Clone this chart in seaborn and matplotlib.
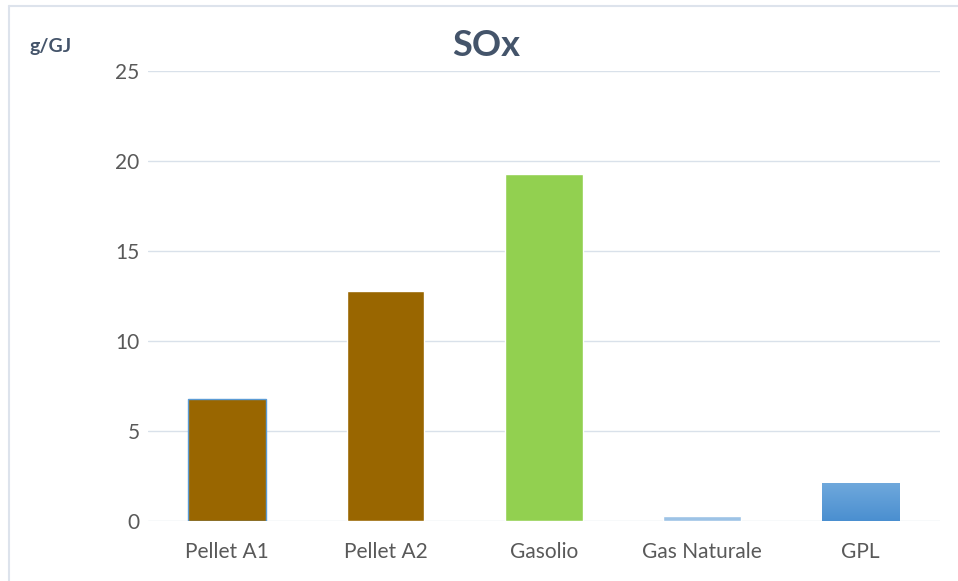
import numpy as np
import pandas as pd
import matplotlib
matplotlib.use('Agg')
import matplotlib.pyplot as plt
from matplotlib.lines import Line2D
import seaborn as sns

# data
categorie = ['Pellet A1', 'Pellet A2', 'Gasolio', 'Gas Naturale', 'GPL']
sox = [6.8, 12.8, 19.3, 0.3, 2.1]
colori = ['#996600', '#996600', '#92D050', '#9DC3E6', '#5B9BD5']

df = pd.DataFrame({'categoria': categorie, 'sox': sox})

sns.set_style('white')
plt.rcParams['font.family'] = ['Lato', 'DejaVu Sans']

fig = plt.figure(figsize=(9.58, 5.81), dpi=100)
ax = fig.add_axes([0.1545, 0.1033, 0.8265, 0.7747])

sns.barplot(data=df, x='categoria', y='sox', hue='categoria', palette=colori,
            legend=False, width=0.49, saturation=1, ax=ax, zorder=3)

# thin blue edge on first bar, gradient on GPL like the original
ax.patches[0].set_edgecolor('#5B9BD5')
ax.patches[0].set_linewidth(1)
gpl = ax.patches[4]
x0, y0 = gpl.get_x(), gpl.get_y()
w, h = gpl.get_width(), gpl.get_height()
grad = np.linspace(0, 1, 100).reshape(-1, 1)
cmap = matplotlib.colors.LinearSegmentedColormap.from_list('g', ['#4A8FD0', '#6FA8DC'])
im = ax.imshow(grad, cmap=cmap, extent=[x0, x0 + w, y0, y0 + h], origin='lower',
               aspect='auto', zorder=3.5)
im.set_clip_path(gpl)
ax.set_xlim(-0.5, 4.5)

ax.set_ylim(0, 25)
ax.set_yticks(range(0, 26, 5))
ax.yaxis.grid(True, color='#D9E1EA', linewidth=1)
ax.set_axisbelow(True)
for s in ax.spines.values():
    s.set_visible(False)
ax.tick_params(axis='both', length=0, labelsize=15, colors='#595959')
ax.tick_params(axis='x', pad=15)
ax.tick_params(axis='y', pad=6)
ax.set_xlabel('')
ax.set_ylabel('')

fig.text(0.508, 0.922, 'SOx', ha='center', va='center', fontsize=26,
         fontweight='bold', color='#44546A')
fig.text(0.031, 0.92, 'g/GJ', ha='left', va='center', fontsize=14,
         fontweight='bold', color='#44546A')

# light frame on left and top edges, as in the screenshot
fig.add_artist(Line2D([8.5 / 958, 8.5 / 958], [0, 1 - 6 / 581], color='#DDE3EC', lw=1.5))
fig.add_artist(Line2D([8.5 / 958, 1], [1 - 6 / 581, 1 - 6 / 581], color='#DDE3EC', lw=1.5))

fig.savefig('out.png', dpi=100)
